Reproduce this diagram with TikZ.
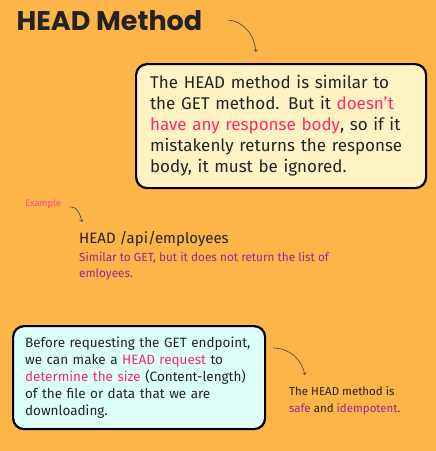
\documentclass[tikz,border=0pt]{standalone}
\usepackage{fontspec}
\setmainfont{Fira Sans}
\newfontfamily\titlefont{Poppins}
\usetikzlibrary{positioning}
\definecolor{bgorange}{RGB}{253,180,72}
\definecolor{noteyellow}{RGB}{255,243,196}
\definecolor{notecyan}{RGB}{221,255,250}
\definecolor{hotpink}{RGB}{255,40,110}
\definecolor{plum}{RGB}{150,40,150}
\definecolor{ink}{RGB}{35,35,35}
\tikzset{
  notebox/.style={draw=black, line width=2.2pt, rounded corners=11pt, anchor=north west, align=left, text=ink},
  curl/.style={->, ink!80, line width=0.7pt, shorten >=1pt}
}
\begin{document}
\begin{tikzpicture}[x=1pt,y=-1pt]
\fill [bgorange] (0,0) rectangle (436,451);

\node [anchor=base west, text=ink, font=\titlefont\bfseries\fontsize{27}{30}\selectfont] (title) at (13,30) {HEAD Method};
\node [notebox, fill=noteyellow, text width=262pt, inner xsep=14pt, minimum height=124pt,
  font=\fontsize{17}{21}\selectfont] (getnote) at (135,63)
  {The HEAD method is similar to\\
   the GET method. But it \textcolor{hotpink}{doesn't}\\
   \textcolor{hotpink}{have any response body}, so if it\\
   mistakenly returns the response\\
   body, it must be ignored.};
\coordinate (titletail) at (228,20);
\coordinate (titletip) at (256,53);
\draw [curl] (titletail) to[out=-5, in=95] (titletip);

\node [anchor=west, text=hotpink!85!white, font=\fontsize{9.3}{11}\selectfont, inner sep=0pt] (example) at (25,204) {Example};
\node [anchor=base west, text=ink, font=\fontsize{15}{18}\selectfont, inner sep=0pt] (request) at (79,243) {HEAD /api/employees};
\node [anchor=north west, text=plum, align=left, font=\fontsize{11.8}{16}\selectfont, inner sep=0pt] (reqnote) at (79,252)
  {Similar to GET, but it does not return the list of\\ emloyees.};
\coordinate (extail) at (70,207);
\coordinate (extip) at (82,223);
\draw [curl] (extail) to[out=5, in=100] (extip);

\node [notebox, fill=notecyan, text width=228pt, inner xsep=12pt, minimum height=103pt,
  font=\fontsize{13.5}{17}\selectfont] (sizenote) at (12,325)
  {Before requesting the GET endpoint,\\
   we can make a \textcolor{hotpink}{HEAD request} to\\
   \textcolor{hotpink}{determine the size} (Content-length)\\
   of the file or data that we are\\
   downloading.};
\node [anchor=north west, text=ink, align=left, font=\fontsize{11.5}{17}\selectfont, inner sep=0pt] (safenote) at (289,386)
  {The HEAD method is\\ \textcolor{plum}{safe} and \textcolor{plum}{idempotent}.};
\coordinate (safetail) at (273,348);
\coordinate (safetip) at (305,376);
\draw [curl] (safetail) to[out=0, in=100] (safetip);
\end{tikzpicture}
\end{document}
